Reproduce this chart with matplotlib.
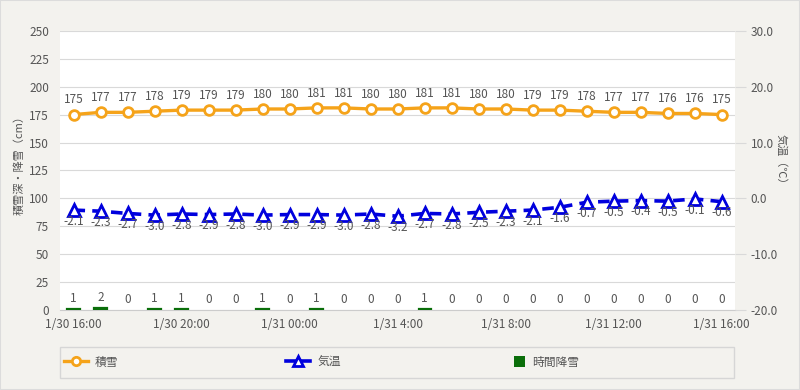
import matplotlib
matplotlib.use("Agg")
import matplotlib.pyplot as plt
from matplotlib.lines import Line2D
from matplotlib.patches import Patch, Rectangle

plt.rcParams['font.family'] = ['Noto Sans CJK JP', 'DejaVu Sans']

# hourly observations, 1/30 16:00 -> 1/31 16:00
hours = list(range(25))
tick_pos = [0, 4, 8, 12, 16, 20, 24]
tick_labels = ['1/30 16:00', '1/30 20:00', '1/31 00:00', '1/31 4:00',
               '1/31 8:00', '1/31 12:00', '1/31 16:00']

snow_depth = [175, 177, 177, 178, 179, 179, 179, 180, 180, 181, 181, 180, 180,
              181, 181, 180, 180, 179, 179, 178, 177, 177, 176, 176, 175]
temperature = [-2.1, -2.3, -2.7, -3.0, -2.8, -2.9, -2.8, -3.0, -2.9, -2.9, -3.0,
               -2.8, -3.2, -2.7, -2.8, -2.5, -2.3, -2.1, -1.6, -0.7, -0.5, -0.4,
               -0.5, -0.1, -0.6]
snowfall = [1, 2, 0, 1, 1, 0, 0, 1, 0, 1, 0, 0, 0, 1, 0, 0, 0, 0, 0, 0, 0, 0, 0, 0, 0]

BG = '#f3f2ee'
GRID = '#d9d9d9'
TXT = '#555555'
ORANGE = '#f5a31a'
BLUE = '#0000dd'
GREEN = '#0a6e0a'
FS = 8.5

fig = plt.figure(figsize=(8, 3.9), dpi=100, facecolor=BG)
fig.patches.append(Rectangle((0, 0), 1, 1, transform=fig.transFigure,
                             fill=False, edgecolor='#dcdcdc', lw=1.5))
ax = fig.add_axes([0.075, 0.205, 0.844, 0.716])
ax.set_facecolor('white')
ax2 = ax.twinx()

# snowfall bars (edge only on non-zero bars so tiny values stay visible)
ax.bar(hours, snowfall, width=0.45, color=GREEN, edgecolor=GREEN,
       linewidth=[1.6 if v else 0 for v in snowfall], zorder=3)
for x, v in zip(hours, snowfall):
    ax.annotate(str(v), (x, v), xytext=(0, 3), textcoords='offset points',
                ha='center', va='bottom', fontsize=FS, color=TXT, zorder=6)

# snow depth
ax.plot(hours, snow_depth, color=ORANGE, lw=2.4, marker='o', ms=7,
        mfc='white', mec=ORANGE, mew=2, zorder=4)
for x, v in zip(hours, snow_depth):
    ax.annotate(str(v), (x, v), xytext=(0, 6), textcoords='offset points',
                ha='center', va='bottom', fontsize=FS, color=TXT, zorder=6)

# temperature
ax2.plot(hours, temperature, color=BLUE, lw=2.6, ls=(0, (3.2, 2.0)), marker='^',
         ms=8, mfc='white', mec=BLUE, mew=2, zorder=4)
for x, v in zip(hours, temperature):
    ax2.annotate(f'{v:.1f}', (x, v), xytext=(0, -8), textcoords='offset points',
                 ha='center', va='center', fontsize=FS, color=TXT, zorder=6)

ax.set_xlim(-0.5, 24.5)
ax.set_ylim(0, 250)
ax2.set_ylim(-20, 30)
ax.set_yticks(range(0, 251, 25))
ax2.set_yticks(range(-20, 31, 10))
ax2.set_yticklabels([f'{t:.1f}' for t in range(-20, 31, 10)])
ax.set_xticks(tick_pos)
ax.set_xticklabels(tick_labels)

ax.grid(axis='y', color=GRID, lw=0.8)
ax.set_axisbelow(True)
for a in (ax, ax2):
    for s in a.spines.values():
        s.set_visible(False)
ax.spines['bottom'].set_visible(True)
ax.spines['bottom'].set_color('#cccccc')
ax.spines['bottom'].set_zorder(1)

ax.tick_params(axis='y', length=0, labelsize=FS, labelcolor=TXT, pad=8)
ax.tick_params(axis='x', length=0, labelsize=FS, labelcolor=TXT, pad=6)
ax2.tick_params(axis='y', length=8, color=GRID, labelsize=FS, labelcolor=TXT, pad=3)

ax.set_ylabel('積雪深・降雪（cm）', fontsize=8, color=TXT)
ax.yaxis.set_label_coords(-0.053, 0.53)
ax2.set_ylabel('気温（℃）', fontsize=8, color=TXT, rotation=-90)
ax2.yaxis.set_label_coords(1.076, 0.53)

# legend: framed strip with three evenly spaced entries
fig.patches.append(Rectangle((0.075, 0.031), 0.842, 0.079, transform=fig.transFigure,
                             facecolor=BG, edgecolor='#d6d6d6', lw=1))
handles = [
    Line2D([], [], color=ORANGE, lw=2.4, marker='o', ms=6, mfc='white', mec=ORANGE, mew=2),
    Line2D([], [], color=BLUE, lw=2.6, marker='^', ms=7, mfc='white', mec=BLUE, mew=2),
    Patch(facecolor=GREEN),
]
names = ['積雪', '気温', '時間降雪']
starts = [0.08, 0.358, 0.642]
hlen = [2.0, 2.0, 1.0]
for h, n, x0, hl in zip(handles, names, starts, hlen):
    fig.legend([h], [n], loc='center left', bbox_to_anchor=(x0, 0.071),
               frameon=False, fontsize=FS, handlelength=hl, handleheight=1.0,
               handletextpad=0.6, borderaxespad=0, borderpad=0, labelcolor=TXT)

fig.savefig('out.png', dpi=100, facecolor=BG)
